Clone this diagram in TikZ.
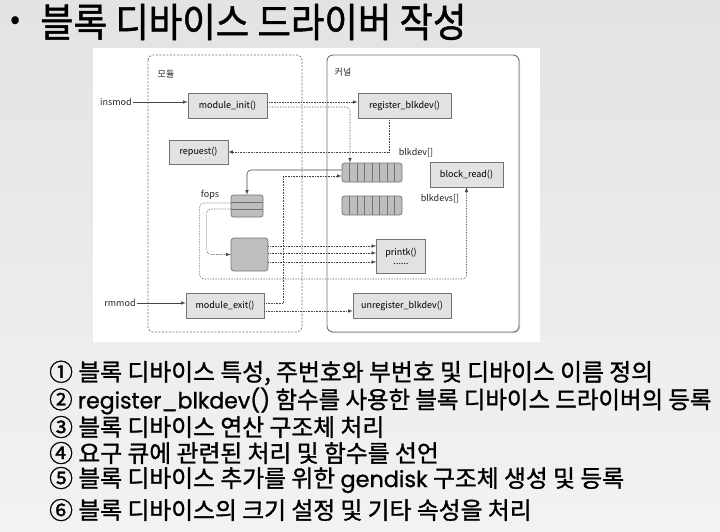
\documentclass[tikz,border=0pt]{standalone}
\usepackage{fontspec}
\setmainfont{Noto Sans CJK KR}
\newfontfamily\latfont[FakeBold=1, Scale=0.94]{Poppins}
\newfontfamily\headfont[FakeBold=1.2]{Noto Sans CJK KR}
\usepackage{tikz}
\usetikzlibrary{calc,shadows}
\definecolor{boxgray}{RGB}{226,226,226}
\definecolor{cellgray}{RGB}{190,190,190}
\definecolor{edgegray}{RGB}{115,115,115}
\definecolor{linegray}{RGB}{70,70,70}

\begin{document}
\begin{tikzpicture}[x=1pt, y=-1pt,
	func/.style={draw=edgegray, fill=boxgray, line width=0.7pt, inner sep=0pt, font=\fontsize{9}{10}\selectfont},
	tablebox/.style={draw=edgegray, fill=cellgray, line width=0.7pt, rounded corners=2.5pt, inner sep=0pt},
	tag/.style={inner sep=1pt, font=\fontsize{9}{10}\selectfont, text=black!85},
	dots/.style={densely dotted, line width=0.6pt, color=linegray},
	wire/.style={line width=0.6pt, color=linegray},
	item/.style={anchor=west, inner sep=0pt, font=\headfont\fontsize{23.8}{26}\selectfont}]

	% page and panel
	\useasboundingbox (0,0) rectangle (720,531);
	\shade[top color=black!11, bottom color=black!5] (0,0) rectangle (720,531);
	\fill[white] (93,48) rectangle (540,342);

	% title
	\node (bullet) at (16,23) {\fontsize{30}{30}\selectfont •};
	\node[anchor=west, inner sep=0pt, xscale=0.91] (title) at (40,22) {\headfont\fontsize{40}{42}\selectfont 블록 디바이스 드라이버 작성};

	% module and kernel frames
	\draw[edgegray, line width=0.7pt, dash pattern=on 2pt off 1.5pt, rounded corners=5pt] (148,55) rectangle (302,332);
	\draw[edgegray, line width=0.9pt, rounded corners=6pt, drop shadow={shadow xshift=1pt, shadow yshift=-1.2pt, opacity=0.35}, fill=white] (327,55) rectangle (519,332);
	\node[tag] (modlabel) at (166,74) {모듈};
	\node[tag] (krnlabel) at (343,72) {커널};

	% functions
	\node[func, minimum width=79, minimum height=25] (init) at (227.5,105.5) {module\_init()};
	\node[func, minimum width=93, minimum height=25] (regblk) at (404.5,105.5) {register\_blkdev()};
	\node[func, minimum width=59, minimum height=24] (req) at (198.5,152) {repuest()};
	\node[func, minimum width=73, minimum height=25] (rd) at (466.5,174.5) {block\_read()};
	\node[func, minimum width=49, minimum height=34, align=center] (prk) at (401,256) {printk()\\[-1pt]......};
	\node[func, minimum width=78, minimum height=25] (exit) at (225,305.5) {module\_exit()};
	\node[func, minimum width=98, minimum height=25] (unreg) at (402,305.5) {unregister\_blkdev()};

	% tables
	\node[tablebox, minimum width=60, minimum height=19] (blkdev) at (372,172.5) {};
	\node[tablebox, minimum width=60, minimum height=19] (blkdevs) at (372,205.5) {};
	\foreach \t in {blkdev,blkdevs}
		\foreach \k in {1,...,7}
			\draw[edgegray, line width=0.6pt] ($(\t.south west)!\k/8!(\t.south east)$) -- ($(\t.north west)!\k/8!(\t.north east)$);
	\node[tablebox, minimum width=32, minimum height=22] (fops) at (247,206) {};
	\foreach \k in {1,2}
		\draw[edgegray, line width=0.6pt] ($(fops.north west)!\k/3!(fops.south west)$) -- ($(fops.north east)!\k/3!(fops.south east)$);
	\node[tablebox, rounded corners=3pt, minimum width=37, minimum height=33] (ops) at (249.5,254.5) {};

	% labels
	\node[tag] (insmod) at (116,102) {insmod};
	\node[tag] (rmmod) at (120,303) {rmmod};
	\node[tag] (devtag) at (416,153) {blkdev[]};
	\node[tag] (devstag) at (440,199) {blkdevs[]};
	\node[tag] (fopstag) at (210,195) {fops};

	% load and unload
	\draw[wire, -latex] (insmod.east) -- (insmod.east -| init.west);
	\draw[wire, -latex] (rmmod.east) -- (rmmod.east -| exit.west);

	% module_init
	\draw[dots, -latex] ([yshift=3.5pt]init.east) -- ([yshift=3.5pt]regblk.west);
	\draw[dots, -latex, rounded corners=4pt] ([yshift=-1.5pt]init.east) -| ([xshift=-22pt]blkdev.north);
	\draw[dots, -latex] ([xshift=-15.5pt]regblk.south) |- (req.east);

	% tables to operations
	\draw[wire, -latex, rounded corners=4pt] ([yshift=2.5pt]blkdev.west) -| (fops.north);
	\draw[dots, -latex, rounded corners=4pt] ([yshift=-3pt]fops.west) -- ++(-24,0) |- (ops.west);
	\draw[dots, -latex, rounded corners=4pt] ([yshift=3pt]fops.west) -- ++(-31,0) -- ++(0,76) -| (rd.south);
	\foreach \s in {8.5,1.5,-7.5}
		\draw[dots, -latex] ([yshift=\s pt]ops.east) -- ([yshift=\s pt]ops.east -| prk.west);

	% module_exit
	\draw[dots, -latex] ([yshift=2.5pt]exit.east) -- ++(19,0) |- ([yshift=-3.5pt]blkdev.west);
	\draw[dots, -latex] ([yshift=-5.5pt]exit.east) -- ([yshift=-5.5pt]unreg.west);

	% steps
	\node[item] (i1) at (49,373) {① 블록 디바이스 특성, 주번호와 부번호 및 디바이스 이름 정의};
	\node[item, xscale=0.985] (i2) at (49,401) {② {\latfont register\_blkdev()} 함수를 사용한 블록 디바이스 드라이버의 등록};
	\node[item] (i3) at (49,427) {③ 블록 디바이스 연산 구조체 처리};
	\node[item] (i4) at (49,453) {④ 요구 큐에 관련된 처리 및 함수를 선언};
	\node[item] (i5) at (49,480) {⑤ 블록 디바이스 추가를 위한 {\latfont gendisk} 구조체 생성 및 등록};
	\node[item] (i6) at (49,510) {⑥ 블록 디바이스의 크기 설정 및 기타 속성을 처리};

\end{tikzpicture}
\end{document}
